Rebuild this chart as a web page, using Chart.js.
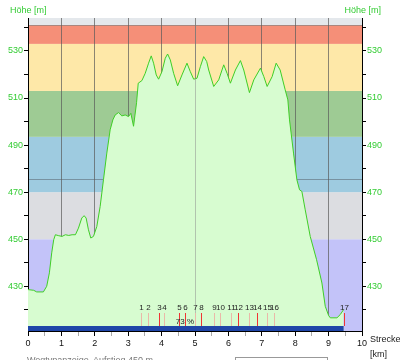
<!DOCTYPE html>
<html>
<head>
<meta charset="utf-8">
<script src="https://cdn.jsdelivr.net/npm/chart.js@4.4.1/dist/chart.umd.min.js"></script>
<style>
body { margin: 0; background: #fff; }
</style>
</head>
<body>
<canvas id="profile" width="400" height="360"></canvas>
<script>
// elevation profile (km / m)
const distKm = [0, 0.17, 0.26, 0.46, 0.56, 0.64, 0.71, 0.77, 0.82, 0.92, 1.02, 1.12, 1.22, 1.32, 1.42,
  1.51, 1.61, 1.68, 1.74, 1.81, 1.88, 1.96, 2.06, 2.16, 2.26, 2.36, 2.46, 2.54, 2.61, 2.71, 2.81,
  2.91, 3.01, 3.08, 3.16, 3.25, 3.30, 3.41, 3.51, 3.61, 3.69, 3.76, 3.84, 3.91, 4.01, 4.11, 4.18,
  4.26, 4.36, 4.48, 4.61, 4.76, 4.86, 4.96, 5.06, 5.16, 5.26, 5.35, 5.41, 5.56, 5.71, 5.86, 5.96,
  6.06, 6.21, 6.36, 6.46, 6.63, 6.76, 6.96, 7.06, 7.16, 7.31, 7.43, 7.55, 7.70, 7.78, 7.83, 7.95,
  8.05, 8.13, 8.20, 8.30, 8.45, 8.64, 8.80, 8.90, 9.00, 9.05, 9.25, 9.35, 9.45];
const heightM = [428.6, 428.3, 427.6, 427.6, 430, 435.7, 444.2, 449.8, 451.9, 451.5, 451.2, 451.9, 451.6, 451.9, 451.9,
  454.7, 459, 460, 459, 454, 450.5, 451.2, 455.4, 463.9, 475.3, 486.6, 496.5, 500.7, 502.8, 503.8, 502.4,
  502.8, 502.1, 503.5, 498, 508, 516.3, 517.4, 520.5, 524.8, 527.9, 524.8, 519.8, 518, 521.2, 526.9, 528.7,
  526.2, 520.5, 515.2, 519.8, 524.8, 521.2, 518, 518.4, 523.3, 527.6, 525.5, 521.9, 514.9, 517.7, 524.1, 520.5,
  516.3, 521.9, 525.9, 521.9, 512.3, 517.7, 522.7, 519.1, 514.9, 519.1, 524.8, 521.9, 513.5, 509.2, 500.7, 486.6,
  475.3, 471, 470.3, 462.5, 451.2, 441.3, 431.4, 421.5, 417.6, 416.6, 416.6, 418, 420.1];

// height zones
const bandLimits = [411, 450, 470, 493.5, 513, 533, 541, 544];
const bandColors = ['#c3c3f9', '#dcdde1', '#9ecbe0', '#9ecb94', '#fee8a8', '#f58f78', '#e4e8ec'];
const refLevel = 475.5;

// waypoints
const markerKm = [3.39, 3.59, 3.91, 4.08, 4.51, 4.69, 4.99, 5.19, 5.56, 5.76, 6.08, 6.28, 6.63, 6.86, 7.16, 7.37, 9.45];
const markerLabels = ['1', '2', '3', '4', '5', '6', '7', '8', '9', '10', '11', '12', '13', '14', '15', '16', '17'];
const markerRed = [false, false, true, false, true, true, false, true, false, false, false, true, false, true, false, false, true];
const routeEnd = 9.45;
const progressKm = 4.7;
const progressLabel = '73 %';
const cursorKm = 5;

const xTicks = [0, 0.5, 1, 1.5, 2, 2.5, 3, 3.5, 4, 4.5, 5, 5.5, 6, 6.5, 7, 7.5, 8, 8.5, 9, 9.5, 10];
const yTicks = [420, 430, 440, 450, 460, 470, 480, 490, 500, 510, 520, 530, 540];
const yLabels = [430, 450, 470, 490, 510, 530];

const green = '#33cc33';

const profilePlugin = {
  id: 'profile',
  beforeDraw(chart) {
    const {ctx, chartArea: a, scales: {y}} = chart;
    ctx.save();
    for (let i = 0; i < bandColors.length; i++) {
      const top = y.getPixelForValue(bandLimits[i + 1]);
      const bot = y.getPixelForValue(bandLimits[i]);
      ctx.fillStyle = bandColors[i];
      ctx.fillRect(a.left, top, a.right - a.left, bot - top);
    }
    ctx.strokeStyle = 'rgba(90,100,110,0.55)';
    ctx.lineWidth = 1;
    const ry = Math.round(y.getPixelForValue(refLevel)) + 0.5;
    ctx.beginPath(); ctx.moveTo(a.left, ry); ctx.lineTo(a.right, ry); ctx.stroke();
    const ty = Math.round(y.getPixelForValue(bandLimits[6])) + 0.5;
    ctx.strokeStyle = 'rgba(120,120,120,0.6)';
    ctx.beginPath(); ctx.moveTo(a.left, ty); ctx.lineTo(a.right, ty); ctx.stroke();
    ctx.restore();
  },
  afterDatasetsDraw(chart) {
    const {ctx, chartArea: a, scales: {x}} = chart;
    ctx.save();
    // cursor line
    const cx = Math.round(x.getPixelForValue(cursorKm)) + 0.5;
    ctx.strokeStyle = 'rgba(140,140,140,0.5)';
    ctx.lineWidth = 1;
    ctx.beginPath(); ctx.moveTo(cx, a.top); ctx.lineTo(cx, a.bottom); ctx.stroke();
    // route bar
    const barTop = a.bottom - 5;
    ctx.fillStyle = '#1f46a8';
    ctx.fillRect(x.getPixelForValue(0), barTop, x.getPixelForValue(routeEnd) - x.getPixelForValue(0), 5);
    // waypoint markers
    ctx.font = '8px "Liberation Sans", Arial, sans-serif';
    ctx.textAlign = 'center';
    ctx.textBaseline = 'middle';
    markerKm.forEach((km, i) => {
      const mx = Math.round(x.getPixelForValue(km)) + 0.5;
      ctx.strokeStyle = markerRed[i] ? '#f03434' : '#ebb8a8';
      ctx.beginPath(); ctx.moveTo(mx, barTop - 13); ctx.lineTo(mx, barTop); ctx.stroke();
      ctx.fillStyle = '#222';
      ctx.fillText(markerLabels[i], mx, barTop - 18);
    });
    ctx.fillText(progressLabel, x.getPixelForValue(progressKm), barTop - 4);
    ctx.restore();
  },
  afterDraw(chart) {
    const {ctx, chartArea: a} = chart;
    ctx.save();
    ctx.font = '9px "Liberation Sans", Arial, sans-serif';
    ctx.textBaseline = 'middle';
    ctx.fillStyle = green;
    ctx.textAlign = 'left';
    ctx.fillText('Höhe [m]', 10, 11);
    ctx.textAlign = 'right';
    ctx.fillText('Höhe [m]', 381, 11);
    ctx.fillStyle = '#222';
    ctx.textAlign = 'left';
    ctx.fillText('Strecke', a.right + 8, 340);
    ctx.fillText('[km]', a.right + 8, 355);
    ctx.fillStyle = '#777';
    ctx.textBaseline = 'top';
    ctx.fillText('Wegtypanzeige', 27, 356);
    ctx.fillText('Aufstieg 450 m', 93, 356);
    ctx.strokeStyle = '#999';
    ctx.strokeRect(235.5, 357.5, 92, 10);
    ctx.restore();
  }
};

Chart.defaults.font.family = '"Liberation Sans", Arial, sans-serif';
Chart.defaults.font.size = 9;

const yAxis = (pos, width) => ({
  type: 'linear',
  position: pos,
  min: bandLimits[0],
  max: bandLimits[bandLimits.length - 1],
  afterBuildTicks: s => { s.ticks = yTicks.map(v => ({value: v})); },
  afterFit: s => { s.width = width; },
  ticks: {
    color: green,
    padding: 1,
    autoSkip: false,
    callback: v => yLabels.includes(v) ? String(v) : ''
  },
  grid: { drawOnChartArea: false, tickLength: 4, tickColor: '#000' },
  border: { color: '#000' }
});

new Chart(document.getElementById('profile'), {
  type: 'line',
  data: {
    datasets: [{
      data: distKm.map((km, i) => ({x: km, y: heightM[i]})),
      borderColor: '#3fcf26',
      borderWidth: 1,
      backgroundColor: '#d7fcd0',
      fill: 'start',
      pointRadius: 0,
      tension: 0,
      yAxisID: 'y'
    }]
  },
  options: {
    responsive: false,
    animation: false,
    devicePixelRatio: 1,
    layout: { padding: { top: 18, left: 0, right: 0, bottom: 0 } },
    plugins: { legend: { display: false }, tooltip: { enabled: false } },
    scales: {
      x: {
        type: 'linear',
        min: 0,
        max: 10,
        afterBuildTicks: s => { s.ticks = xTicks.map(v => ({value: v})); },
        afterFit: s => { s.height = 29; },
        ticks: {
          color: '#111',
          padding: 2,
          autoSkip: false,
          maxRotation: 0,
          callback: v => Number.isInteger(v) ? String(v) : ''
        },
        grid: {
          tickLength: 5,
          color: c => (c.tick && Number.isInteger(c.tick.value) && c.tick.value > 0 && c.tick.value < 10) ? 'rgba(90,90,90,0.7)' : 'rgba(0,0,0,0)',
          tickColor: c => (c.tick && Number.isInteger(c.tick.value)) ? '#000' : '#aaa'
        },
        border: { color: '#000' }
      },
      y: yAxis('left', 28),
      y2: yAxis('right', 38)
    }
  },
  plugins: [profilePlugin]
});
</script>
</body>
</html>
